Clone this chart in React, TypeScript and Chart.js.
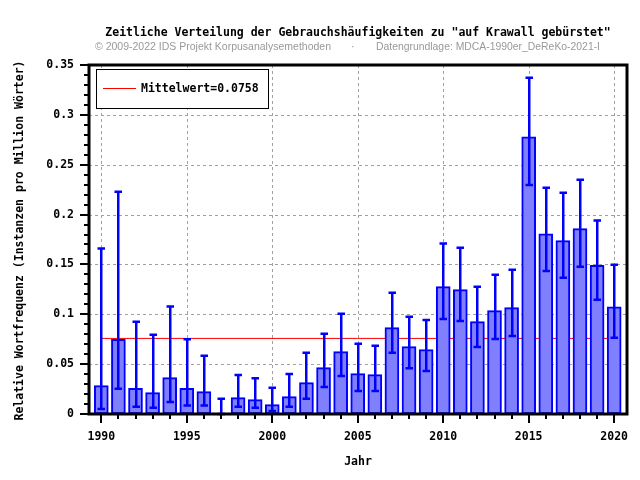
import React, { useEffect, useRef } from "react";
import { Chart, registerables } from "chart.js";

Chart.register(...registerables);

const years = [1990, 1991, 1992, 1993, 1994, 1995, 1996, 1997, 1998, 1999, 2000, 2001, 2002, 2003, 2004, 2005, 2006, 2007, 2008, 2009, 2010, 2011, 2012, 2013, 2014, 2015, 2016, 2017, 2018, 2019, 2020];
const values = [0.0284, 0.0749, 0.0258, 0.0214, 0.0364, 0.0258, 0.0224, 0, 0.0164, 0.0144, 0.0094, 0.0174, 0.0314, 0.0465, 0.0625, 0.0405, 0.0395, 0.0866, 0.0675, 0.0645, 0.1277, 0.1247, 0.0926, 0.1036, 0.1066, 0.278, 0.1808, 0.1738, 0.1859, 0.149, 0.1076];
const errHigh = [0.166, 0.223, 0.0926, 0.0796, 0.1077, 0.075, 0.0585, 0.0154, 0.039, 0.0358, 0.0264, 0.04, 0.0615, 0.0806, 0.1006, 0.0705, 0.0685, 0.1217, 0.0976, 0.0943, 0.171, 0.1668, 0.1277, 0.1397, 0.1447, 0.3373, 0.227, 0.222, 0.235, 0.194, 0.1497];
const errLow = [0.005, 0.0254, 0.0073, 0.0063, 0.012, 0.0084, 0.0084, 0, 0.0073, 0.0063, 0.003, 0.0073, 0.0154, 0.027, 0.038, 0.023, 0.023, 0.0615, 0.046, 0.043, 0.0953, 0.0933, 0.0672, 0.0752, 0.0782, 0.2297, 0.1434, 0.1367, 0.1477, 0.1146, 0.0765];
const meanValue = 0.0758;
const meanLabel = "Mittelwert=0.0758";
const xMajorTicks = [1990, 1995, 2000, 2005, 2010, 2015, 2020];
const xTickLabels = ["1990", "1995", "2000", "2005", "2010", "2015", "2020"];
const yMajorTicks = [0, 0.05, 0.1, 0.15, 0.2, 0.25, 0.3, 0.35];
const yTickLabels = ["0", "0.05", "0.1", "0.15", "0.2", "0.25", "0.3", "0.35"];
const yMinorTicks = [0.01, 0.02, 0.03, 0.04, 0.06, 0.07, 0.08, 0.09, 0.11, 0.12, 0.13, 0.14, 0.16, 0.17, 0.18, 0.19, 0.21, 0.22, 0.23, 0.24, 0.26, 0.27, 0.28, 0.29, 0.31, 0.32, 0.33, 0.34];
const titleText = "Zeitliche Verteilung der Gebrauchshäufigkeiten zu \"auf Krawall gebürstet\"";
const subLeft = "© 2009-2022 IDS Projekt Korpusanalysemethoden";
const subRight = "Datengrundlage: MDCA-1990er_DeReKo-2021-I";
const xTitle = "Jahr";
const yTitle = "Relative Wortfrequenz (Instanzen pro Million Wörter)";

const MONO = "bold 11.5px 'DejaVu Sans Mono', monospace";

const overlay = {
  id: "overlay",
  beforeDatasetsDraw(chart: any) {
    const { ctx, chartArea: a, scales } = chart;
    const xs = scales.x, ys = scales.y;
    ctx.save();
    ctx.strokeStyle = "#a0a0a0";
    ctx.lineWidth = 1;
    ctx.setLineDash([3, 3]);
    xMajorTicks.forEach((v) => {
      const px = Math.round(xs.getPixelForValue(v)) + 0.5;
      ctx.beginPath();
      ctx.moveTo(px, a.top);
      ctx.lineTo(px, a.bottom);
      ctx.stroke();
    });
    yMajorTicks.forEach((v) => {
      const py = Math.round(ys.getPixelForValue(v)) + 0.5;
      ctx.beginPath();
      ctx.moveTo(a.left, py);
      ctx.lineTo(a.right, py);
      ctx.stroke();
    });
    ctx.restore();
  },
  afterDatasetsDraw(chart: any) {
    const { ctx, chartArea: a, scales } = chart;
    const xs = scales.x, ys = scales.y;
    ctx.save();
    // error bars
    ctx.strokeStyle = "#0000ff";
    ctx.lineWidth = 2.5;
    years.forEach((yr, i) => {
      const px = Math.round(xs.getPixelForValue(yr)) + 0.25;
      const hi = ys.getPixelForValue(errHigh[i]);
      const lo = ys.getPixelForValue(errLow[i]);
      ctx.beginPath();
      ctx.moveTo(px, hi);
      ctx.lineTo(px, lo);
      ctx.moveTo(px - 3.75, hi);
      ctx.lineTo(px + 3.75, hi);
      ctx.moveTo(px - 3.75, lo);
      ctx.lineTo(px + 3.75, lo);
      ctx.stroke();
    });
    // frame
    ctx.strokeStyle = "#000";
    ctx.lineWidth = 3;
    ctx.strokeRect(a.left, a.top, a.right - a.left, a.bottom - a.top);
    // ticks
    ctx.lineWidth = 2;
    years.forEach((yr) => {
      const px = Math.round(xs.getPixelForValue(yr));
      const major = xMajorTicks.indexOf(yr) >= 0;
      ctx.beginPath();
      ctx.moveTo(px, a.bottom);
      ctx.lineTo(px, a.bottom + (major ? 9 : 5));
      ctx.stroke();
    });
    yMajorTicks.forEach((v) => {
      const py = Math.round(ys.getPixelForValue(v));
      ctx.beginPath();
      ctx.moveTo(a.left - 9, py);
      ctx.lineTo(a.left, py);
      ctx.stroke();
    });
    yMinorTicks.forEach((v) => {
      const py = Math.round(ys.getPixelForValue(v));
      ctx.beginPath();
      ctx.moveTo(a.left - 5, py);
      ctx.lineTo(a.left, py);
      ctx.stroke();
    });
    // tick labels
    ctx.fillStyle = "#000";
    ctx.font = MONO;
    ctx.textBaseline = "middle";
    ctx.textAlign = "center";
    xMajorTicks.forEach((v, i) => {
      ctx.fillText(xTickLabels[i], xs.getPixelForValue(v), a.bottom + 23);
    });
    ctx.textAlign = "right";
    yMajorTicks.forEach((v, i) => {
      ctx.fillText(yTickLabels[i], a.left - 15, ys.getPixelForValue(v));
    });
    // axis titles
    ctx.textAlign = "center";
    ctx.fillText(xTitle, (a.left + a.right) / 2, a.bottom + 48);
    ctx.save();
    ctx.translate(20, (a.top + a.bottom) / 2 + 1);
    ctx.rotate(-Math.PI / 2);
    ctx.fillText(yTitle, 0, 0);
    ctx.restore();
    // title
    ctx.fillText(titleText, (a.left + a.right) / 2, 33);
    // subtitle
    ctx.fillStyle = "#999999";
    ctx.font = "11px 'Liberation Sans', Arial, sans-serif";
    ctx.textAlign = "left";
    ctx.fillText(subLeft, 95, 46.5, 236);
    ctx.fillText("·", 351, 46.5);
    ctx.fillText(subRight, 376, 46.5, 224);
    // legend
    ctx.fillStyle = "#fff";
    ctx.fillRect(96.5, 69.5, 172, 39);
    ctx.strokeStyle = "#000";
    ctx.lineWidth = 1;
    ctx.strokeRect(96.5, 69.5, 172, 39);
    ctx.strokeStyle = "#ff0000";
    ctx.beginPath();
    ctx.moveTo(103, 88.5);
    ctx.lineTo(136, 88.5);
    ctx.stroke();
    ctx.fillStyle = "#000";
    ctx.font = MONO;
    ctx.textAlign = "left";
    ctx.fillText(meanLabel, 141, 89);
    ctx.restore();
  },
};

export default function App() {
  const ref = useRef<HTMLCanvasElement>(null);
  useEffect(() => {
    if (!ref.current) return;
    const chart = new Chart(ref.current, {
      type: "bar",
      data: {
        datasets: [
          {
            type: "bar",
            data: years.map((y, i) => ({ x: y, y: values[i] })),
            backgroundColor: "#8080ff",
            borderColor: "#0000ff",
            borderWidth: 2,
            borderSkipped: false,
            barThickness: 14,
            order: 1,
          } as any,
          {
            type: "line",
            data: [
              { x: years[0], y: meanValue },
              { x: years[years.length - 1], y: meanValue },
            ],
            borderColor: "#ff0000",
            borderWidth: 1,
            pointRadius: 0,
            order: 2,
          } as any,
        ],
      },
      options: {
        animation: false,
        responsive: false,
        layout: { padding: { left: 89, right: 13, top: 65, bottom: 66 } },
        plugins: { legend: { display: false }, title: { display: false }, tooltip: { enabled: false } },
        scales: {
          x: { type: "linear", display: false, min: 1989.28, max: 2020.75, offset: false },
          y: { type: "linear", display: false, min: 0, max: 0.35 },
        },
      },
      plugins: [overlay],
    });
    return () => chart.destroy();
  }, []);
  return (
    <div style={{ position: "absolute", left: 0, top: 0, width: 640, height: 480, background: "#fff" }}>
      <canvas ref={ref} width={640} height={480} />
    </div>
  );
}
